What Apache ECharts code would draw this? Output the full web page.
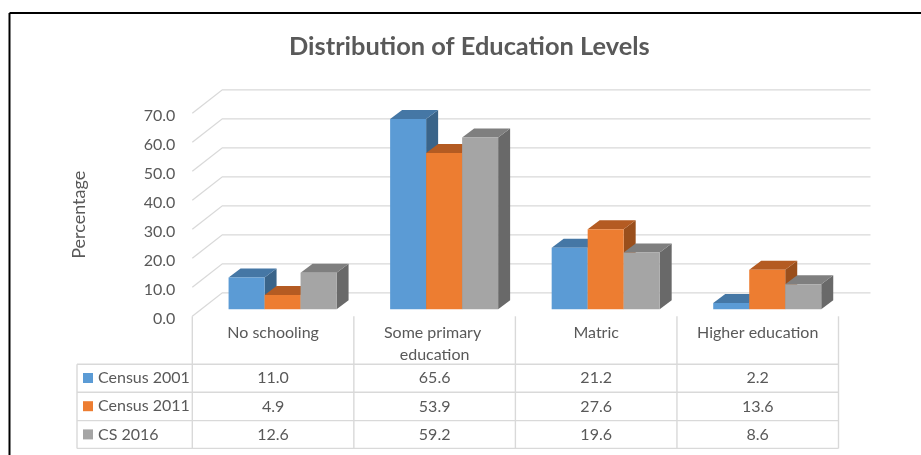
<!DOCTYPE html>
<html><head><meta charset="utf-8">
<style>html,body{margin:0;padding:0;background:#fff}#c{width:921px;height:455px}</style>
<script src="https://cdn.jsdelivr.net/npm/echarts@6/dist/echarts.min.js"></script>
</head><body><div id="c"></div>
<script>
const categories = ['No schooling', 'Some primary education', 'Matric', 'Higher education'];
const seriesNames = ['Census 2001', 'Census 2011', 'CS 2016'];
const census2001 = [11.0, 65.6, 21.2, 2.2];
const census2011 = [4.9, 53.9, 27.6, 13.6];
const cs2016 = [12.6, 59.2, 19.6, 8.6];
const yTicks = [0, 10, 20, 30, 40, 50, 60, 70];
const title = 'Distribution of Education Levels';
const yTitle = 'Percentage';

const FONT = 'Lato, "Open Sans", sans-serif';
const TXT = '#595959', GRID = '#d9d9d9';
const colors = [
  {front:'#5b9bd5', top:'#4577a5', side:'#3a6489'},
  {front:'#ed7d31', top:'#b45b22', side:'#9a4f1c'},
  {front:'#a5a5a5', top:'#7f7f7f', side:'#696969'}
];
const allSeries = [census2001, census2011, cs2016];

const GL = 192.3, GT = 113.3, GW = 646.2, GH = 203;
const WALL_DX = 30, WALL_DY = 23.5;
const BAR_W = 36, BAR_DX = 12, BAR_DY = 9, PLANE_DX = 9.5, PLANE_DY = 7;
const TABLE_LEFT = 77, TABLE_ROWS = [364.3, 392.3, 420.6, 448.4], ROW_TEXT = [378.2, 406.4, 434.4];

function wallItem(params, api) {
  const c = api.coord([0, api.value(1)]);
  const cs = params.coordSys, x0 = cs.x, x1 = cs.x + cs.width;
  return {type:'polyline', silent:true, shape:{points:[[x0, c[1]], [x0 + WALL_DX, c[1] - WALL_DY], [x1 + WALL_DX + 2, c[1] - WALL_DY]]},
    style:{stroke:GRID, lineWidth:1.3, fill:null}};
}
function barItem(si) {
  return function (params, api) {
    const b = api.coord([api.value(0), 0]), t = api.coord([api.value(0), api.value(1)]);
    const xL = b[0] + PLANE_DX + (si - 1.5) * BAR_W, xR = xL + BAR_W;
    const yB = b[1] - PLANE_DY, yT = t[1] - PLANE_DY;
    const k = colors[si];
    return {type:'group', children:[
      {type:'polygon', shape:{points:[[xR,yT],[xR+BAR_DX,yT-BAR_DY],[xR+BAR_DX,yB-BAR_DY],[xR,yB]]}, style:{fill:k.side}},
      {type:'polygon', shape:{points:[[xL,yT],[xL+BAR_DX,yT-BAR_DY],[xR+BAR_DX,yT-BAR_DY],[xR,yT]]}, style:{fill:k.top}},
      {type:'rect', shape:{x:xL, y:yT, width:BAR_W, height:yB-yT}, style:{fill:k.front}}
    ]};
  };
}
function tableLines(params, api) {
  const cs = params.coordSys, x0 = cs.x, x1 = cs.x + cs.width, kids = [];
  const ln = (a,b,c,d) => kids.push({type:'line', shape:{x1:a,y1:b,x2:c,y2:d}, style:{stroke:GRID, lineWidth:1.4}});
  TABLE_ROWS.forEach(y => ln(TABLE_LEFT, y, x1, y));
  ln(TABLE_LEFT, TABLE_ROWS[0], TABLE_LEFT, TABLE_ROWS[3]);
  categories.concat(['']).forEach((_, i) => {
    const x = x0 + cs.width * i / categories.length;
    ln(x, cs.y + cs.height, x, TABLE_ROWS[3]);
  });
  return {type:'group', silent:true, children:kids};
}
function cellItem(params, api) {
  const x = api.coord([api.value(0), 0])[0];
  return {type:'text', silent:true, style:{x:x, y:ROW_TEXT[api.value(2)], text:api.value(1).toFixed(1),
    align:'center', verticalAlign:'middle', fill:TXT, font:'16px ' + FONT}};
}

const series = [];
series.push({type:'custom', name:'wall', silent:true, z:1, renderItem:wallItem,
  data:yTicks.map(v => [0, v]), encode:{x:0, y:1}});
series.push({type:'custom', name:'table', silent:true, z:1, renderItem:tableLines, data:[[0,0]], encode:{x:0,y:1}});
seriesNames.forEach((n, si) => {
  series.push({type:'custom', name:n, z:2 + si, renderItem:barItem(si), itemStyle:{color:colors[si].front},
    data:allSeries[si].map((v, i) => [i, v]), encode:{x:0, y:1}});
});
const cells = [];
allSeries.forEach((arr, r) => arr.forEach((v, i) => cells.push([i, v, r])));
series.push({type:'custom', name:'cells', silent:true, z:6, renderItem:cellItem, data:cells, encode:{x:0, y:1}});

const chart = echarts.init(document.getElementById('c'), null, {renderer:'canvas'});
chart.setOption({
  animation:false, backgroundColor:'#fff',
  textStyle:{fontFamily:FONT},
  title:{text:title, left:289, top:34, padding:0, textStyle:{fontFamily:FONT, fontSize:25.4, fontWeight:'bold', color:TXT}},
  grid:[
    {left:GL, top:GT, width:GW, height:GH, containLabel:false},
    {left:GL, top:GT + 2.8, width:GW, height:GH, containLabel:false}
  ],
  legend:{data:seriesNames, orient:'vertical', left:83, top:370, itemWidth:10, itemHeight:10, itemGap:12.2,
    icon:'rect', padding:0, itemStyle:{borderWidth:0}, textStyle:{fontFamily:FONT, fontSize:16, color:TXT, lineHeight:14, padding:0}, itemTextGap:4, selectedMode:false},
  xAxis:[
    {type:'category', gridIndex:0, data:categories, axisLine:{show:false}, axisTick:{show:false}, splitLine:{show:false},
     axisLabel:{interval:0, margin:6, width:130, overflow:'break', color:TXT, fontFamily:FONT, fontSize:16, lineHeight:22}},
    {type:'category', gridIndex:1, data:categories, show:false}
  ],
  yAxis:[
    {type:'value', gridIndex:0, min:0, max:70, interval:10, name:yTitle, nameLocation:'middle', nameGap:104,
     nameTextStyle:{fontFamily:FONT, fontSize:18, color:TXT},
     axisLine:{show:false}, axisTick:{show:false}, splitLine:{show:false}, axisLabel:{show:false}},
    {type:'value', gridIndex:1, min:0, max:70, interval:10,
     axisLine:{show:false}, axisTick:{show:false}, splitLine:{show:false},
     axisLabel:{margin:17, color:TXT, fontFamily:FONT, fontSize:16, formatter:v => v.toFixed(1)}}
  ],
  graphic:[
    {type:'line', silent:true, shape:{x1:9.5, y1:13, x2:921, y2:13}, style:{stroke:'#000', lineWidth:2}},
    {type:'line', silent:true, shape:{x1:9.5, y1:13, x2:9.5, y2:455}, style:{stroke:'#000', lineWidth:2}}
  ],
  series:series
});
</script></body></html>
